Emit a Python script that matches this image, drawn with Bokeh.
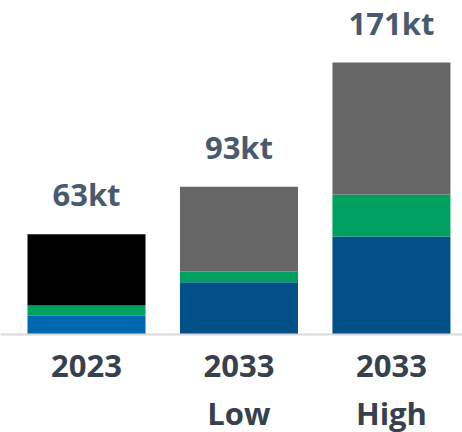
from bokeh.plotting import figure
from bokeh.models import ColumnDataSource, Range1d, FixedTicker
from bokeh.embed import file_html
from bokeh.resources import INLINE
from bokeh.core.properties import value

categories = ["2023", "2033\nLow", "2033\nHigh"]
blue_vals = [12.0, 32.9, 61.6]
green_vals = [6.3, 6.7, 26.4]
top_vals = [44.7, 53.3, 83.0]
totals = [63, 93, 171]
total_labels = ["63kt", "93kt", "171kt"]

blue_colors = ["#0067b1", "#02518a", "#02518a"]
green_color = "#00a061"
top_colors = ["#000000", "#666666", "#666666"]

xs = list(range(len(categories)))
b_top = [b for b in blue_vals]
g_top = [b + g for b, g in zip(blue_vals, green_vals)]
t_top = [b + g + t for b, g, t in zip(blue_vals, green_vals, top_vals)]

src = ColumnDataSource(dict(
    x=xs, b0=[0] * 3, b1=b_top, g1=g_top, t1=t_top,
    bc=blue_colors, tc=top_colors, lab=total_labels,
))

p = figure(frame_width=462, frame_height=334, output_backend="svg", toolbar_location=None,
           x_range=Range1d(-0.564, 2.466), y_range=Range1d(0, 210),
           y_axis_location=None, min_border_left=0, min_border_right=0,
           min_border_top=0, min_border_bottom=0)
p.outline_line_color = None
p.grid.visible = False

w = 0.774
p.vbar(x="x", bottom="b0", top="b1", width=w, fill_color="bc", line_color=None, source=src)
p.vbar(x="x", bottom="b1", top="g1", width=w, fill_color=green_color, line_color=None, source=src)
p.vbar(x="x", bottom="g1", top="t1", width=w, fill_color="tc", line_color=None, source=src)

p.text(x="x", y="t1", text="lab", source=src, text_align="center", text_baseline="alphabetic",
       y_offset=-40, text_font=value("Open Sans"), text_font_style="bold",
       text_font_size="31px", text_color="#4a5a6d")

ax = p.xaxis[0]
ax.ticker = FixedTicker(ticks=xs)
ax.major_label_overrides = {i: c for i, c in zip(xs, categories)}
ax.major_tick_line_color = None
ax.minor_tick_line_color = None
ax.axis_line_color = "#d9d9d9"
ax.axis_line_width = 2
ax.major_label_text_font = "Open Sans"
ax.major_label_text_font_style = "bold"
ax.major_label_text_font_size = "31px"
ax.major_label_text_color = "#36414d"
ax.major_label_text_line_height = 1.15
ax.major_label_standoff = 3

open("out.html", "w").write(file_html(p, INLINE))
